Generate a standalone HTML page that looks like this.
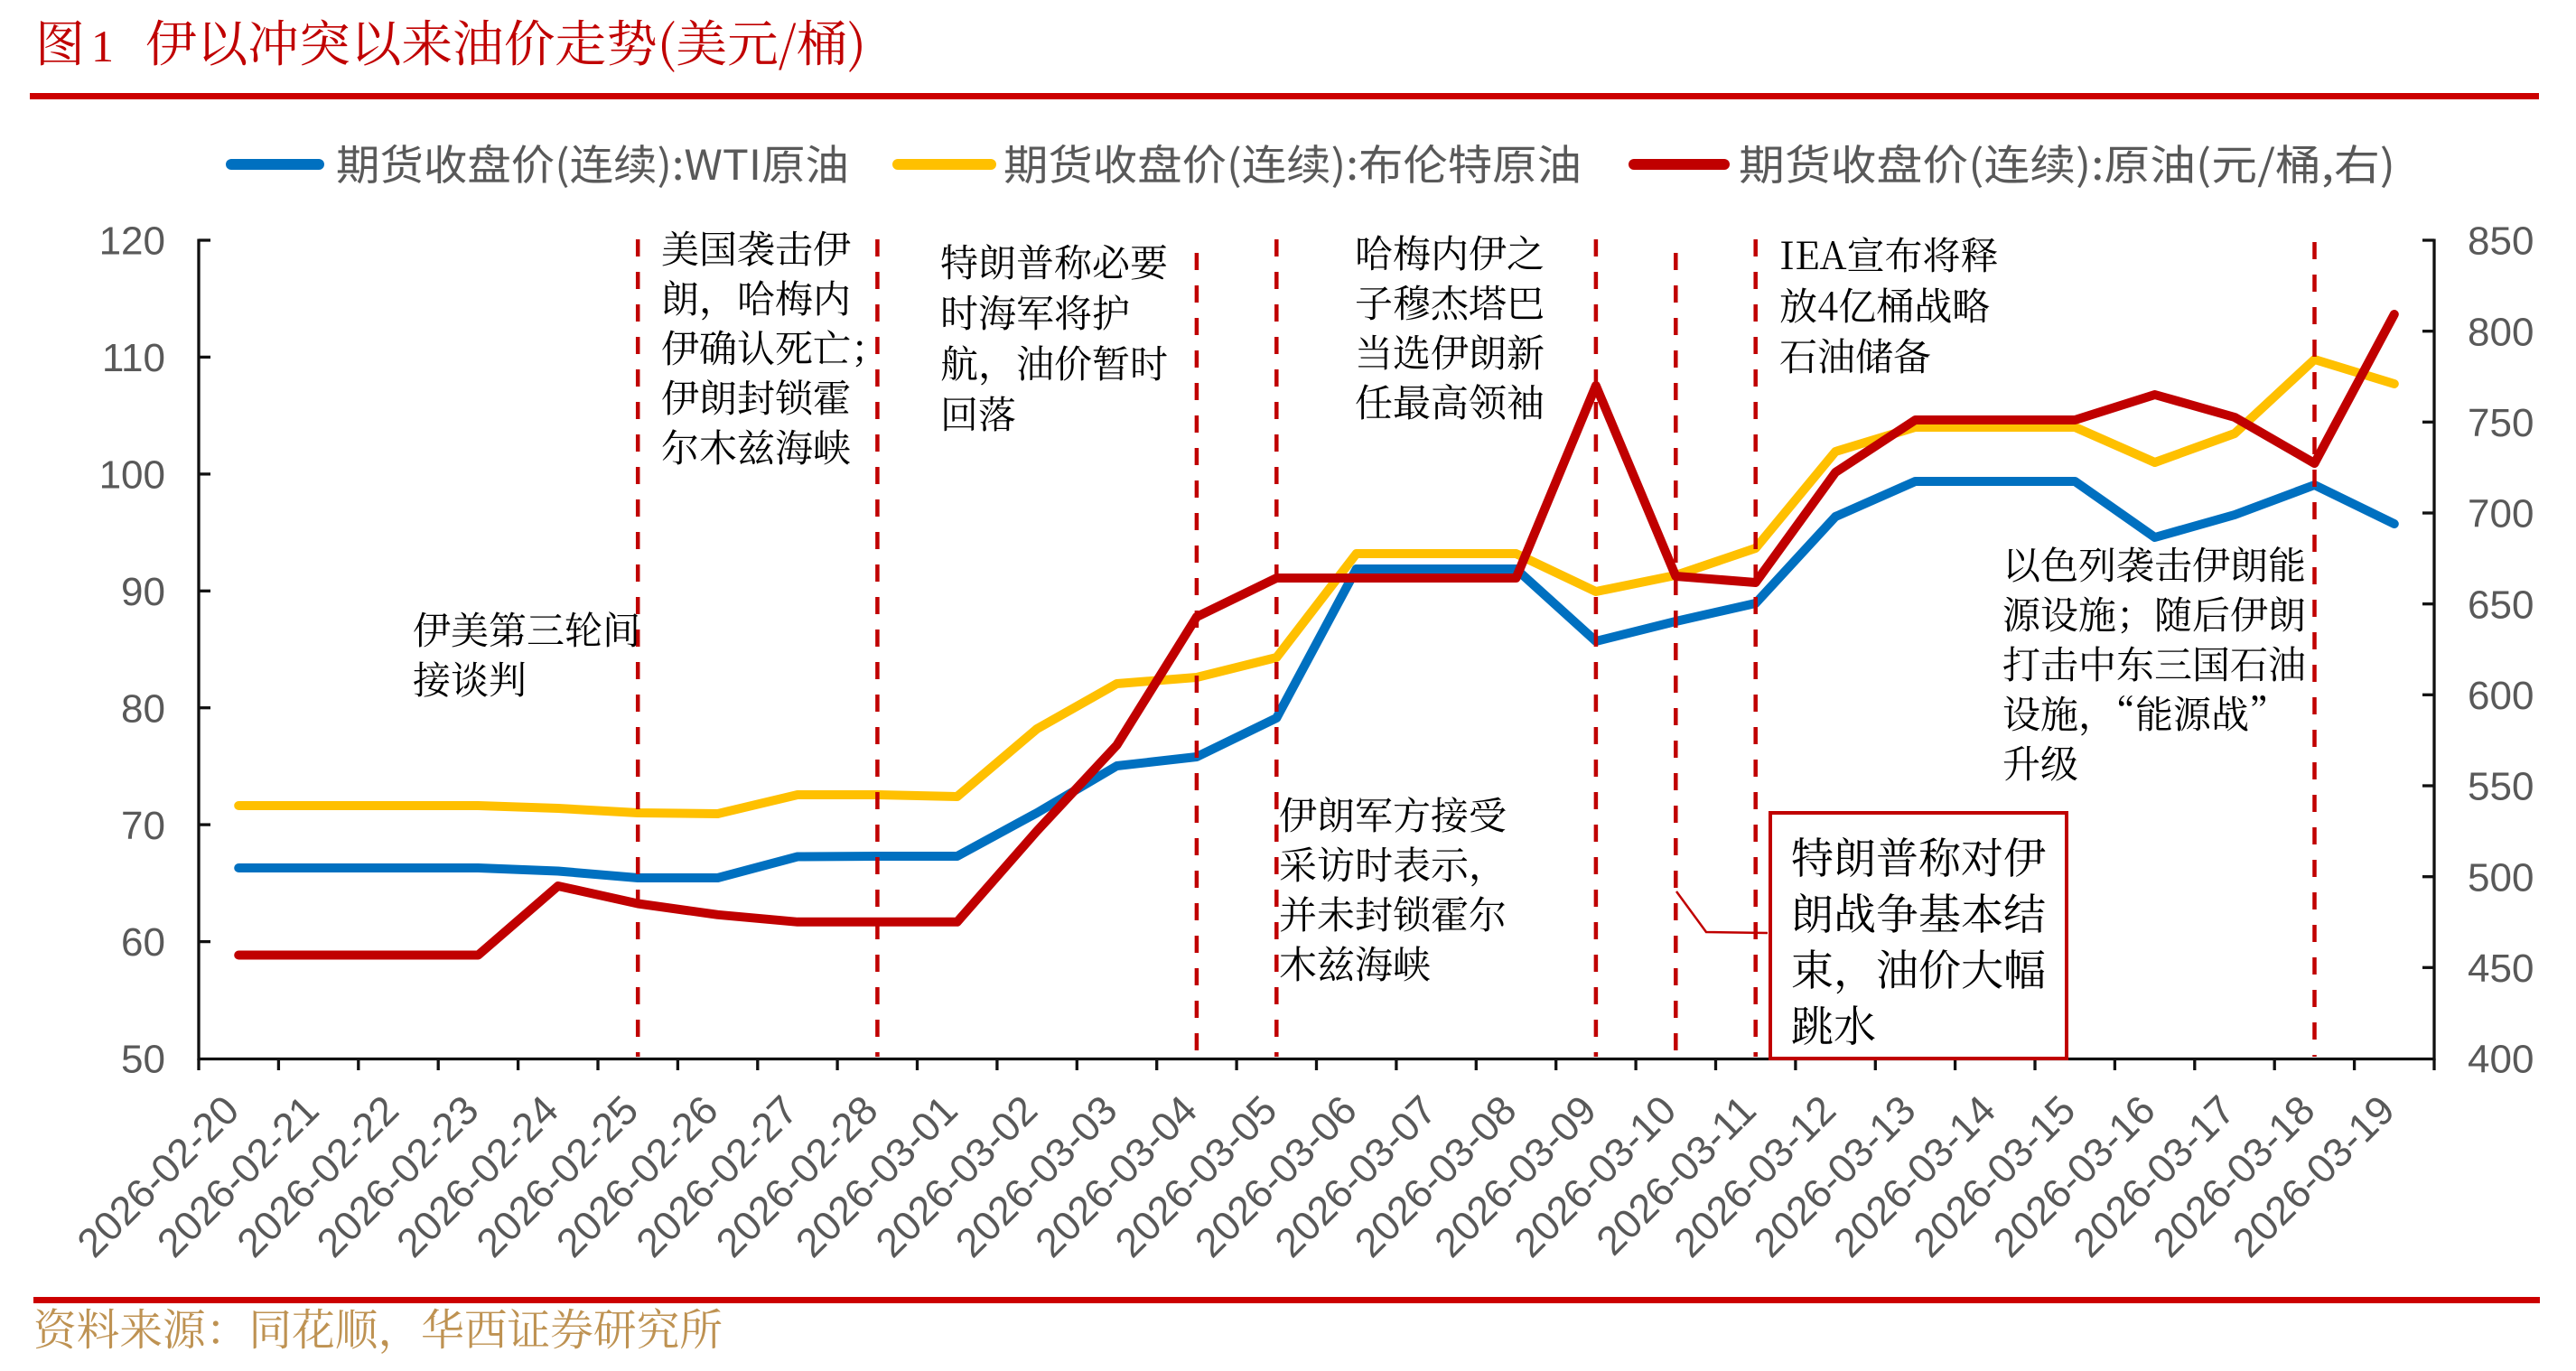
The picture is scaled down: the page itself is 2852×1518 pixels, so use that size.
<!DOCTYPE html>
<html><head><meta charset="utf-8"><style>
html,body{margin:0;padding:0;background:#fff;}
svg{display:block;}
.cj{font-family:"Noto Serif CJK SC","Noto Sans CJK SC",serif;}
.ax{font-family:"Liberation Sans",Arial,sans-serif;fill:#595959;}
</style></head><body>
<svg width="2852" height="1518" viewBox="0 0 2852 1518" xmlns="http://www.w3.org/2000/svg">
<rect width="2852" height="1518" fill="#fff"/>
<!-- title -->
<text class="cj" x="39" y="68" font-size="55" fill="#C00000">图</text>
<text x="101" y="68" font-size="50" fill="#C00000" font-family="Liberation Serif, serif">1</text>
<text class="cj" x="161" y="68" font-size="55" fill="#C00000" textLength="798" lengthAdjust="spacingAndGlyphs">伊以冲突以来油价走势(美元/桶)</text>
<rect x="33" y="103" width="2778" height="7" fill="#CC0000"/>
<!-- legend -->
<g stroke-linecap="round" stroke-width="12">
<line x1="256" y1="182" x2="353" y2="182" stroke="#0070C0"/>
<line x1="994" y1="182" x2="1097" y2="182" stroke="#FFC000"/>
<line x1="1809" y1="182" x2="1909" y2="182" stroke="#C00000"/>
</g>
<g font-family="Noto Sans CJK SC, sans-serif" font-size="46" fill="#595959">
<text x="372" y="199" textLength="568" lengthAdjust="spacingAndGlyphs">期货收盘价(连续):WTI原油</text>
<text x="1111" y="199" textLength="640" lengthAdjust="spacingAndGlyphs">期货收盘价(连续):布伦特原油</text>
<text x="1925" y="199" textLength="727" lengthAdjust="spacingAndGlyphs">期货收盘价(连续):原油(元/桶,右)</text>
</g>
<!-- series -->
<g fill="none" stroke-width="10" stroke-linejoin="round" stroke-linecap="round">
<polyline stroke="#0070C0" points="264.2,961 352.6,961 441,961 529.4,961 617.8,964.5 706.2,972 794.6,972 883,948.5 971.4,948 1059.7,948 1148.1,900 1236.5,848 1324.9,838 1413.3,795 1501.7,630 1590.1,630 1678.5,630 1766.9,710 1855.3,688 1943.7,668 2032.1,572 2120.5,533 2208.9,533 2297.3,533 2385.7,595 2474.1,570 2562.5,537 2650.8,580"/>
<polyline stroke="#FFC000" points="264.2,892 352.6,892 441,892 529.4,892 617.8,895 706.2,900 794.6,901 883,880 971.4,880 1059.7,882 1148.1,807 1236.5,757 1324.9,750 1413.3,728 1501.7,613 1590.1,613 1678.5,613 1766.9,655 1855.3,637 1943.7,607 2032.1,500 2120.5,473 2208.9,473 2297.3,473 2385.7,512 2474.1,480 2562.5,398 2650.8,425"/>
<polyline stroke="#C00000" points="264.2,1057.5 352.6,1057.5 441,1057.5 529.4,1057.5 617.8,981 706.2,1000.5 794.6,1012.8 883,1020.8 971.4,1020.8 1059.7,1020.8 1148.1,920 1236.5,825 1324.9,683 1413.3,640 1501.7,640 1590.1,640 1678.5,640 1766.9,427 1855.3,638 1943.7,645 2032.1,523 2120.5,465 2208.9,465 2297.3,465 2385.7,437 2474.1,462 2562.5,513 2650.8,348"/>
</g>
<!-- dashed event lines -->
<g stroke="#C00000" stroke-width="4.5" stroke-dasharray="19 17">
<line x1="706.2" y1="265" x2="706.2" y2="1170"/>
<line x1="971.4" y1="265" x2="971.4" y2="1170"/>
<line x1="1324.9" y1="280" x2="1324.9" y2="1170"/>
<line x1="1413.3" y1="265" x2="1413.3" y2="1170"/>
<line x1="1766.9" y1="265" x2="1766.9" y2="1170"/>
<line x1="1855.3" y1="280" x2="1855.3" y2="1170"/>
<line x1="1943.7" y1="265" x2="1943.7" y2="1170"/>
<line x1="2562.5" y1="268" x2="2562.5" y2="1170"/>
</g>
<!-- axes -->
<g stroke="#111" stroke-width="3.3">
<line x1="220" y1="264.5" x2="220" y2="1174"/>
<line x1="2695" y1="264.5" x2="2695" y2="1174"/>
<line x1="218.5" y1="1172.5" x2="2696.5" y2="1172.5"/>
<!-- left ticks -->
<line x1="220" y1="266" x2="233" y2="266"/><line x1="220" y1="395.4" x2="233" y2="395.4"/><line x1="220" y1="524.9" x2="233" y2="524.9"/><line x1="220" y1="654.3" x2="233" y2="654.3"/><line x1="220" y1="783.7" x2="233" y2="783.7"/><line x1="220" y1="913.1" x2="233" y2="913.1"/><line x1="220" y1="1042.6" x2="233" y2="1042.6"/>
<!-- right ticks -->
<line x1="2682" y1="266" x2="2695" y2="266"/><line x1="2682" y1="366.7" x2="2695" y2="366.7"/><line x1="2682" y1="467.3" x2="2695" y2="467.3"/><line x1="2682" y1="568" x2="2695" y2="568"/><line x1="2682" y1="668.7" x2="2695" y2="668.7"/><line x1="2682" y1="769.3" x2="2695" y2="769.3"/><line x1="2682" y1="870" x2="2695" y2="870"/><line x1="2682" y1="970.7" x2="2695" y2="970.7"/><line x1="2682" y1="1071.3" x2="2695" y2="1071.3"/>
<!-- x ticks -->
<line x1="220" y1="1172" x2="220" y2="1185"/><line x1="308.4" y1="1172" x2="308.4" y2="1185"/><line x1="396.8" y1="1172" x2="396.8" y2="1185"/><line x1="485.2" y1="1172" x2="485.2" y2="1185"/><line x1="573.6" y1="1172" x2="573.6" y2="1185"/><line x1="662" y1="1172" x2="662" y2="1185"/><line x1="750.4" y1="1172" x2="750.4" y2="1185"/><line x1="838.8" y1="1172" x2="838.8" y2="1185"/><line x1="927.1" y1="1172" x2="927.1" y2="1185"/><line x1="1015.5" y1="1172" x2="1015.5" y2="1185"/><line x1="1103.9" y1="1172" x2="1103.9" y2="1185"/><line x1="1192.3" y1="1172" x2="1192.3" y2="1185"/><line x1="1280.7" y1="1172" x2="1280.7" y2="1185"/><line x1="1369.1" y1="1172" x2="1369.1" y2="1185"/><line x1="1457.5" y1="1172" x2="1457.5" y2="1185"/><line x1="1545.9" y1="1172" x2="1545.9" y2="1185"/><line x1="1634.3" y1="1172" x2="1634.3" y2="1185"/><line x1="1722.7" y1="1172" x2="1722.7" y2="1185"/><line x1="1811.1" y1="1172" x2="1811.1" y2="1185"/><line x1="1899.5" y1="1172" x2="1899.5" y2="1185"/><line x1="1987.9" y1="1172" x2="1987.9" y2="1185"/><line x1="2076.3" y1="1172" x2="2076.3" y2="1185"/><line x1="2164.6" y1="1172" x2="2164.6" y2="1185"/><line x1="2253" y1="1172" x2="2253" y2="1185"/><line x1="2341.4" y1="1172" x2="2341.4" y2="1185"/><line x1="2429.8" y1="1172" x2="2429.8" y2="1185"/><line x1="2518.2" y1="1172" x2="2518.2" y2="1185"/><line x1="2606.6" y1="1172" x2="2606.6" y2="1185"/><line x1="2695" y1="1172" x2="2695" y2="1185"/>
</g>
<!-- y labels -->
<g class="ax" font-size="44" text-anchor="end">
<text x="183" y="281.5">120</text><text x="183" y="411">110</text><text x="183" y="540.5">100</text><text x="183" y="670">90</text><text x="183" y="799.5">80</text><text x="183" y="929">70</text><text x="183" y="1058">60</text><text x="183" y="1187.5">50</text>
</g>
<g class="ax" font-size="44">
<text x="2732" y="281.5">850</text><text x="2732" y="382.5">800</text><text x="2732" y="483">750</text><text x="2732" y="583.5">700</text><text x="2732" y="684.5">650</text><text x="2732" y="785">600</text><text x="2732" y="885.5">550</text><text x="2732" y="986.5">500</text><text x="2732" y="1087">450</text><text x="2732" y="1187.5">400</text>
</g>
<!-- x labels -->
<g class="ax" font-size="45" text-anchor="end">
<text transform="translate(267.2,1232) rotate(-45)">2026-02-20</text>
<text transform="translate(355.6,1232) rotate(-45)">2026-02-21</text>
<text transform="translate(444,1232) rotate(-45)">2026-02-22</text>
<text transform="translate(532.4,1232) rotate(-45)">2026-02-23</text>
<text transform="translate(620.8,1232) rotate(-45)">2026-02-24</text>
<text transform="translate(709.2,1232) rotate(-45)">2026-02-25</text>
<text transform="translate(797.6,1232) rotate(-45)">2026-02-26</text>
<text transform="translate(886,1232) rotate(-45)">2026-02-27</text>
<text transform="translate(974.4,1232) rotate(-45)">2026-02-28</text>
<text transform="translate(1062.7,1232) rotate(-45)">2026-03-01</text>
<text transform="translate(1151.1,1232) rotate(-45)">2026-03-02</text>
<text transform="translate(1239.5,1232) rotate(-45)">2026-03-03</text>
<text transform="translate(1327.9,1232) rotate(-45)">2026-03-04</text>
<text transform="translate(1416.3,1232) rotate(-45)">2026-03-05</text>
<text transform="translate(1504.7,1232) rotate(-45)">2026-03-06</text>
<text transform="translate(1593.1,1232) rotate(-45)">2026-03-07</text>
<text transform="translate(1681.5,1232) rotate(-45)">2026-03-08</text>
<text transform="translate(1769.9,1232) rotate(-45)">2026-03-09</text>
<text transform="translate(1858.3,1232) rotate(-45)">2026-03-10</text>
<text transform="translate(1946.7,1232) rotate(-45)">2026-03-11</text>
<text transform="translate(2035.1,1232) rotate(-45)">2026-03-12</text>
<text transform="translate(2123.5,1232) rotate(-45)">2026-03-13</text>
<text transform="translate(2211.9,1232) rotate(-45)">2026-03-14</text>
<text transform="translate(2300.3,1232) rotate(-45)">2026-03-15</text>
<text transform="translate(2388.7,1232) rotate(-45)">2026-03-16</text>
<text transform="translate(2477.1,1232) rotate(-45)">2026-03-17</text>
<text transform="translate(2565.5,1232) rotate(-45)">2026-03-18</text>
<text transform="translate(2653.8,1232) rotate(-45)">2026-03-19</text>
</g>
<!-- annotations -->
<g class="cj" font-size="42" fill="#000">
<text x="457" y="713">伊美第三轮间</text>
<text x="457" y="768">接谈判</text>

<text x="732" y="291">美国袭击伊</text>
<text x="732" y="346">朗，哈梅内</text>
<text x="732" y="401">伊确认死亡；</text>
<text x="732" y="456">伊朗封锁霍</text>
<text x="732" y="511">尔木兹海峡</text>

<text x="1041" y="306">特朗普称必要</text>
<text x="1041" y="362">时海军将护</text>
<text x="1041" y="418">航，油价暂时</text>
<text x="1041" y="474">回落</text>

<text x="1500" y="296">哈梅内伊之</text>
<text x="1500" y="351">子穆杰塔巴</text>
<text x="1500" y="406">当选伊朗新</text>
<text x="1500" y="461">任最高领袖</text>

<text x="1970" y="298">IEA宣布将释</text>
<text x="1970" y="354">放4亿桶战略</text>
<text x="1970" y="410">石油储备</text>

<text x="2217" y="641">以色列袭击伊朗能</text>
<text x="2217" y="696">源设施；随后伊朗</text>
<text x="2217" y="751">打击中东三国石油</text>
<text x="2217" y="806">设施，“能源战”</text>
<text x="2217" y="861">升级</text>

<text x="1416" y="918">伊朗军方接受</text>
<text x="1416" y="973">采访时表示，</text>
<text x="1416" y="1028">并未封锁霍尔</text>
<text x="1416" y="1083">木兹海峡</text>
</g>
<!-- connector + box -->
<polyline points="1856,987 1889,1032 1957,1033" fill="none" stroke="#C00000" stroke-width="2.5"/>
<rect x="1960" y="900" width="328" height="272" fill="#fff" stroke="#C00000" stroke-width="4"/>
<g class="cj" font-size="47" fill="#000">
<text x="1983" y="967">特朗普称对伊</text>
<text x="1983" y="1029">朗战争基本结</text>
<text x="1983" y="1091">束，油价大幅</text>
<text x="1983" y="1153">跳水</text>
</g>
<!-- footer -->
<rect x="37" y="1436" width="2775" height="7" fill="#CC0000"/>
<text class="cj" x="37" y="1489" font-size="48" fill="#BE9252" textLength="763" lengthAdjust="spacingAndGlyphs">资料来源：同花顺，华西证券研究所</text>
</svg>
</body></html>
